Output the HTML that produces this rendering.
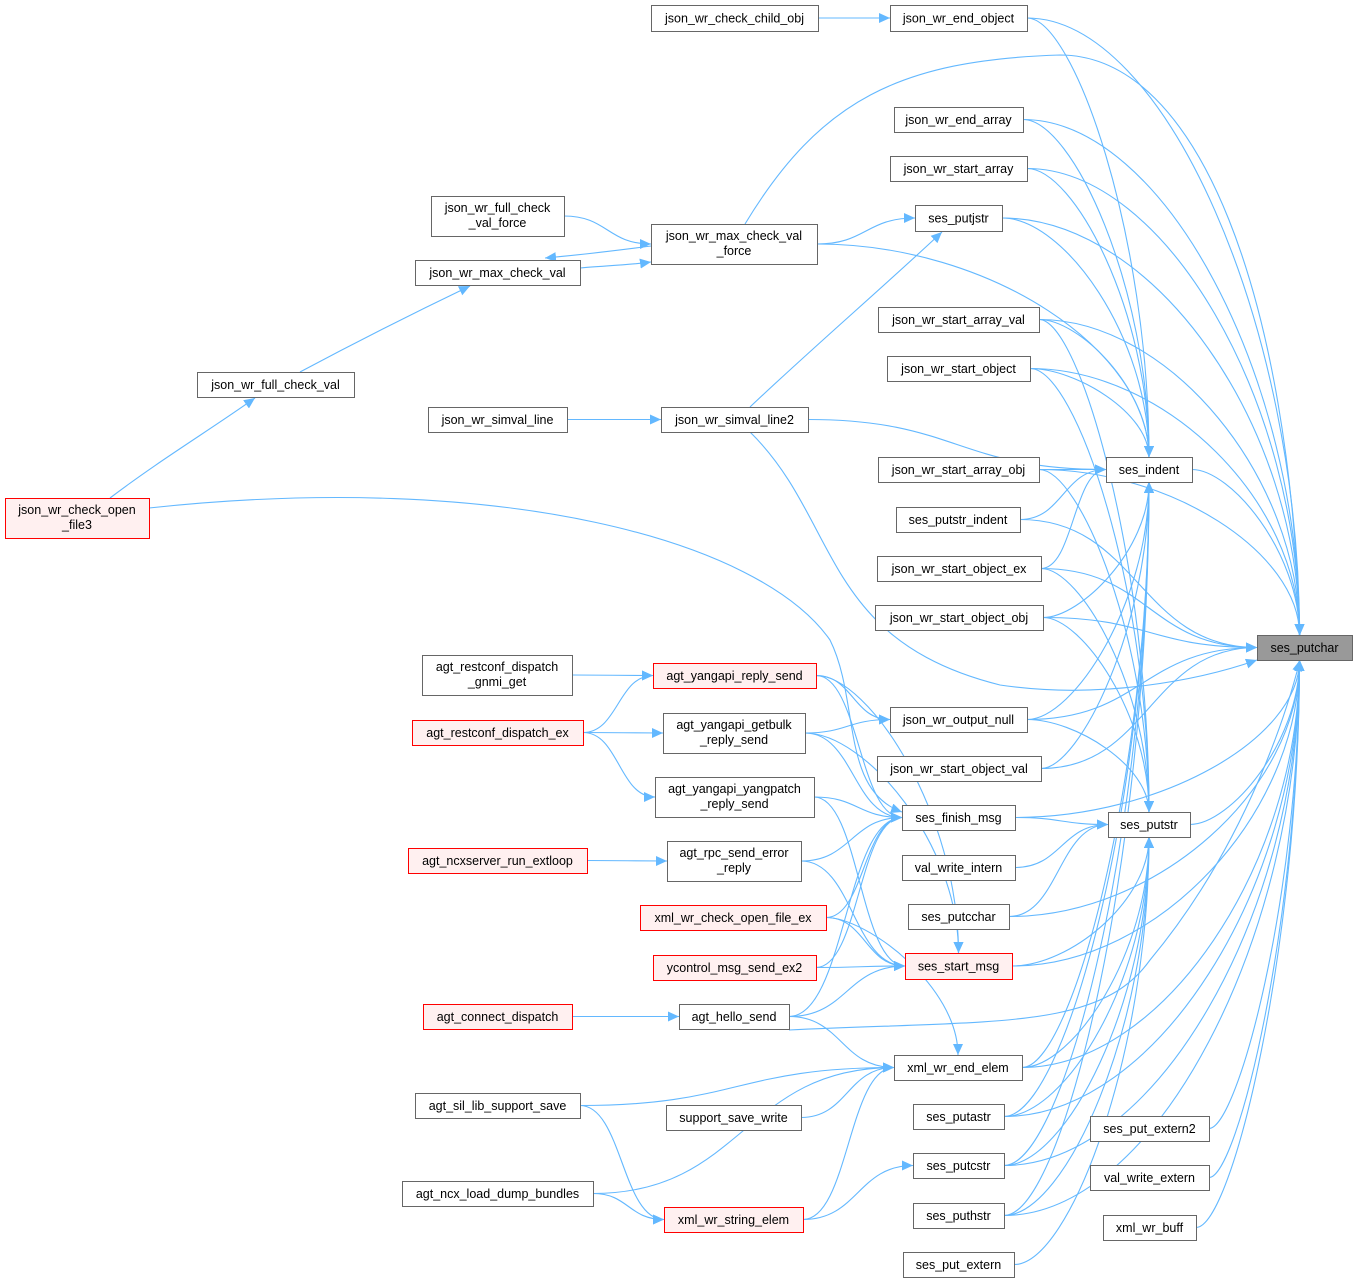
<!DOCTYPE html>
<html><head><meta charset="utf-8">
<style>
html,body{margin:0;padding:0;background:#fff;}
svg{display:block;}
text{font-family:"Liberation Sans",Arial,sans-serif;font-size:12.5px;fill:#000;}
</style></head>
<body>
<svg id="g" width="1356" height="1284" viewBox="0 0 1356 1284" xmlns="http://www.w3.org/2000/svg">
<defs>
<marker id="a" markerUnits="userSpaceOnUse" markerWidth="12" markerHeight="10" refX="11" refY="5" orient="auto">
<path d="M0,0 L11,5 L0,10 z" fill="#63b8ff"/>
</marker>
</defs>
<g id="edges" fill="none" stroke="#63b8ff" stroke-width="1.1"></g>
<g id="nodes"></g>
</svg>
<script>
var N={
P:[1257,635,95,25,"ses_putchar",2],
end_object:[890,5,137,26,"json_wr_end_object"],
end_array:[894,107,129,25,"json_wr_end_array"],
start_array:[890,156,137,25,"json_wr_start_array"],
putjstr:[915,205,87,26,"ses_putjstr"],
start_array_val:[878,307,161,25,"json_wr_start_array_val"],
start_object:[887,356,143,25,"json_wr_start_object"],
start_array_obj:[878,457,161,25,"json_wr_start_array_obj"],
putstr_indent:[896,507,124,25,"ses_putstr_indent"],
start_object_ex:[877,556,164,25,"json_wr_start_object_ex"],
start_object_obj:[875,605,168,25,"json_wr_start_object_obj"],
output_null:[890,707,137,25,"json_wr_output_null"],
start_object_val:[877,756,164,25,"json_wr_start_object_val"],
finish_msg:[902,805,113,25,"ses_finish_msg"],
val_write_intern:[902,855,113,25,"val_write_intern"],
putcchar:[908,904,101,25,"ses_putcchar"],
start_msg:[905,953,107,26,"ses_start_msg",1],
end_elem:[894,1055,128,25,"xml_wr_end_elem"],
putastr:[913,1104,91,25,"ses_putastr"],
putcstr:[913,1153,91,25,"ses_putcstr"],
puthstr:[913,1203,91,25,"ses_puthstr"],
put_extern:[903,1252,111,25,"ses_put_extern"],
I:[1106,457,86,25,"ses_indent"],
S:[1108,812,82,25,"ses_putstr"],
put_extern2:[1090,1116,119,25,"ses_put_extern2"],
val_write_extern:[1090,1165,119,25,"val_write_extern"],
xml_wr_buff:[1103,1215,93,25,"xml_wr_buff"],
check_child_obj:[651,5,167,26,"json_wr_check_child_obj"],
mcvf:[651,224,166,40,"json_wr_max_check_val|_force"],
simval_line2:[661,407,147,25,"json_wr_simval_line2"],
reply_send:[653,663,163,25,"agt_yangapi_reply_send",1],
getbulk:[663,713,142,40,"agt_yangapi_getbulk|_reply_send"],
yangpatch:[655,777,159,40,"agt_yangapi_yangpatch|_reply_send"],
rpc_err:[667,841,134,40,"agt_rpc_send_error|_reply"],
xml_open_ex:[640,905,186,25,"xml_wr_check_open_file_ex",1],
ycontrol:[653,955,163,25,"ycontrol_msg_send_ex2",1],
hello:[679,1004,110,25,"agt_hello_send"],
support_save_write:[666,1105,135,25,"support_save_write"],
string_elem:[664,1207,139,25,"xml_wr_string_elem",1],
fcvf:[431,196,133,40,"json_wr_full_check|_val_force"],
max_check_val:[415,260,165,25,"json_wr_max_check_val"],
full_check_val:[197,372,157,25,"json_wr_full_check_val"],
simval_line:[428,407,139,25,"json_wr_simval_line"],
open_file3:[5,498,144,40,"json_wr_check_open|_file3",1],
gnmi:[422,655,150,40,"agt_restconf_dispatch|_gnmi_get"],
dispatch_ex:[412,720,171,25,"agt_restconf_dispatch_ex",1],
extloop:[408,848,179,25,"agt_ncxserver_run_extloop",1],
connect:[423,1004,149,25,"agt_connect_dispatch",1],
sil:[415,1093,165,25,"agt_sil_lib_support_save"],
dump:[402,1181,191,25,"agt_ncx_load_dump_bundles"]
};
var E=[
["check_child_obj","end_object"],["fcvf","mcvf"],["max_check_val","mcvf"],["simval_line","simval_line2"],
["gnmi","reply_send"],["dispatch_ex","reply_send"],["dispatch_ex","getbulk"],["dispatch_ex","yangpatch"],
["extloop","rpc_err"],["connect","hello"],["sil","end_elem"],["sil","string_elem"],["dump","end_elem"],["dump","string_elem"],
["reply_send","output_null"],["reply_send","finish_msg"],["reply_send","start_msg"],
["getbulk","output_null"],["getbulk","finish_msg"],["getbulk","start_msg"],
["yangpatch","finish_msg"],["yangpatch","start_msg"],["rpc_err","finish_msg"],["rpc_err","start_msg"],
["xml_open_ex","finish_msg"],["xml_open_ex","start_msg"],["xml_open_ex","end_elem"],["ycontrol","start_msg"],["ycontrol","finish_msg"],
["hello","start_msg"],["hello","end_elem"],["hello","finish_msg"],["support_save_write","end_elem"],["string_elem","end_elem"],["string_elem","putcstr"],
["mcvf","putjstr"],["mcvf","I"],["simval_line2","I"],["open_file3","finish_msg"],
["mcvf","P"],["simval_line2","P"],["X1"],["X2"],["X3"]
];
var toP=["end_object","end_array","start_array","putjstr","start_array_val","start_object","I","start_array_obj","putstr_indent","start_object_ex","start_object_obj","output_null","start_object_val","S","putcchar","start_msg","hello","end_elem","putastr","putcstr","puthstr","put_extern2","val_write_extern","xml_wr_buff","finish_msg"];
toP.forEach(function(s){E.push([s,"P"]);});
["end_object","end_array","start_array","putjstr","start_array_val","start_object","start_array_obj","putstr_indent","start_object_ex","start_object_obj","output_null","start_object_val","end_elem","putastr","putcstr","puthstr"].forEach(function(s){E.push([s,"I"]);});
["start_array_val","start_object","start_array_obj","start_object_ex","start_object_obj","output_null","finish_msg","val_write_intern","putcchar","start_msg","end_elem","putastr","putcstr","puthstr","put_extern"].forEach(function(s){E.push([s,"S"]);});
var ns="http://www.w3.org/2000/svg";
var eg=document.getElementById("edges"),ng=document.getElementById("nodes");
function path(d){var p=document.createElementNS(ns,"path");p.setAttribute("d",d);p.setAttribute("marker-end","url(#a)");eg.appendChild(p);}
E.forEach(function(e){
 if(e[0]=="X1"){path("M110,498 C160,460 210,430 255,398");return;}
 if(e[0]=="X2"){path("M300,372 C360,340 420,310 470,286");return;}
 if(e[0]=="X3"){path("M750,407 C810,350 880,290 942,232");return;}
 var s=N[e[0]],t=N[e[1]];
 var sx=s[0]+s[2],sy=s[1]+s[3]/2,tx=t[0],ty=t[1]+t[3]/2;
 if(e[0]=="max_check_val"&&e[1]=="mcvf"){path("M580,268 C600,266 630,265 651,262");path("M651,246 C620,250 580,255 545,258");return;}
 if(e[0]=="mcvf"&&e[1]=="P"){path("M745,224 C820,100 900,60 1060,55 C1200,55 1290,300 1300,635");return;}
 if(e[0]=="simval_line2"&&e[1]=="P"){path("M750,432 C840,520 820,640 1000,685 C1100,700 1200,680 1257,660");return;}
 if(e[0]=="open_file3"&&e[1]=="finish_msg"){path("M149,508 C500,470 760,540 830,640 C860,700 840,790 902,812");return;}
 if(e[0]=="hello"&&e[1]=="P"){path("M789,1030 C1000,1020 1100,1030 1150,960 C1250,840 1290,700 1300,660");return;}
 var dx=tx-sx,dy=ty-sy;
 var vert=Math.abs(dy)>2.2*Math.abs(dx);
 if(e[1]=="P") vert=Math.abs(dy)>150;
 if(e[1]=="I"||e[1]=="S") vert=Math.abs(dy)>100;
 if(dx<20){
   sx=s[0]+s[2]/2; sy=dy<0?s[1]:s[1]+s[3];
   tx=t[0]+t[2]/2; ty=dy<0?t[1]+t[3]:t[1];
   path("M"+sx+","+sy+" C"+sx+","+(sy+(ty-sy)*0.4)+" "+tx+","+(ty-(ty-sy)*0.4)+" "+tx+","+ty);return;
 }
 if(vert){
   tx=t[0]+t[2]/2+(e[1]=="P"?-5:0); ty=dy<0?t[1]+t[3]:t[1];
   path("M"+sx+","+sy+" C"+(sx+dx*0.6)+","+sy+" "+tx+","+(ty-(ty-sy)*0.5)+" "+tx+","+ty);
 } else {
   path("M"+sx+","+sy+" C"+(sx+dx*0.5)+","+sy+" "+(tx-dx*0.5)+","+ty+" "+tx+","+ty);
 }
});
for(var k in N){var n=N[k];
 var r=document.createElementNS(ns,"rect");
 r.setAttribute("x",n[0]+0.5);r.setAttribute("y",n[1]+0.5);r.setAttribute("width",n[2]);r.setAttribute("height",n[3]);
 r.setAttribute("fill",n[5]==2?"#999999":n[5]==1?"#fff0f0":"#ffffff");
 r.setAttribute("stroke",n[5]==1?"#ff0000":"#666666");
 ng.appendChild(r);
 var lines=n[4].split("|");
 lines.forEach(function(l,i){
  var t=document.createElementNS(ns,"text");
  t.setAttribute("x",n[0]+n[2]/2);t.setAttribute("text-anchor","middle");
  var y=lines.length==1?n[1]+n[3]/2+4.5:n[1]+16+i*15;
  t.setAttribute("y",y);t.textContent=l;ng.appendChild(t);
 });
}
</script>
</body></html>
